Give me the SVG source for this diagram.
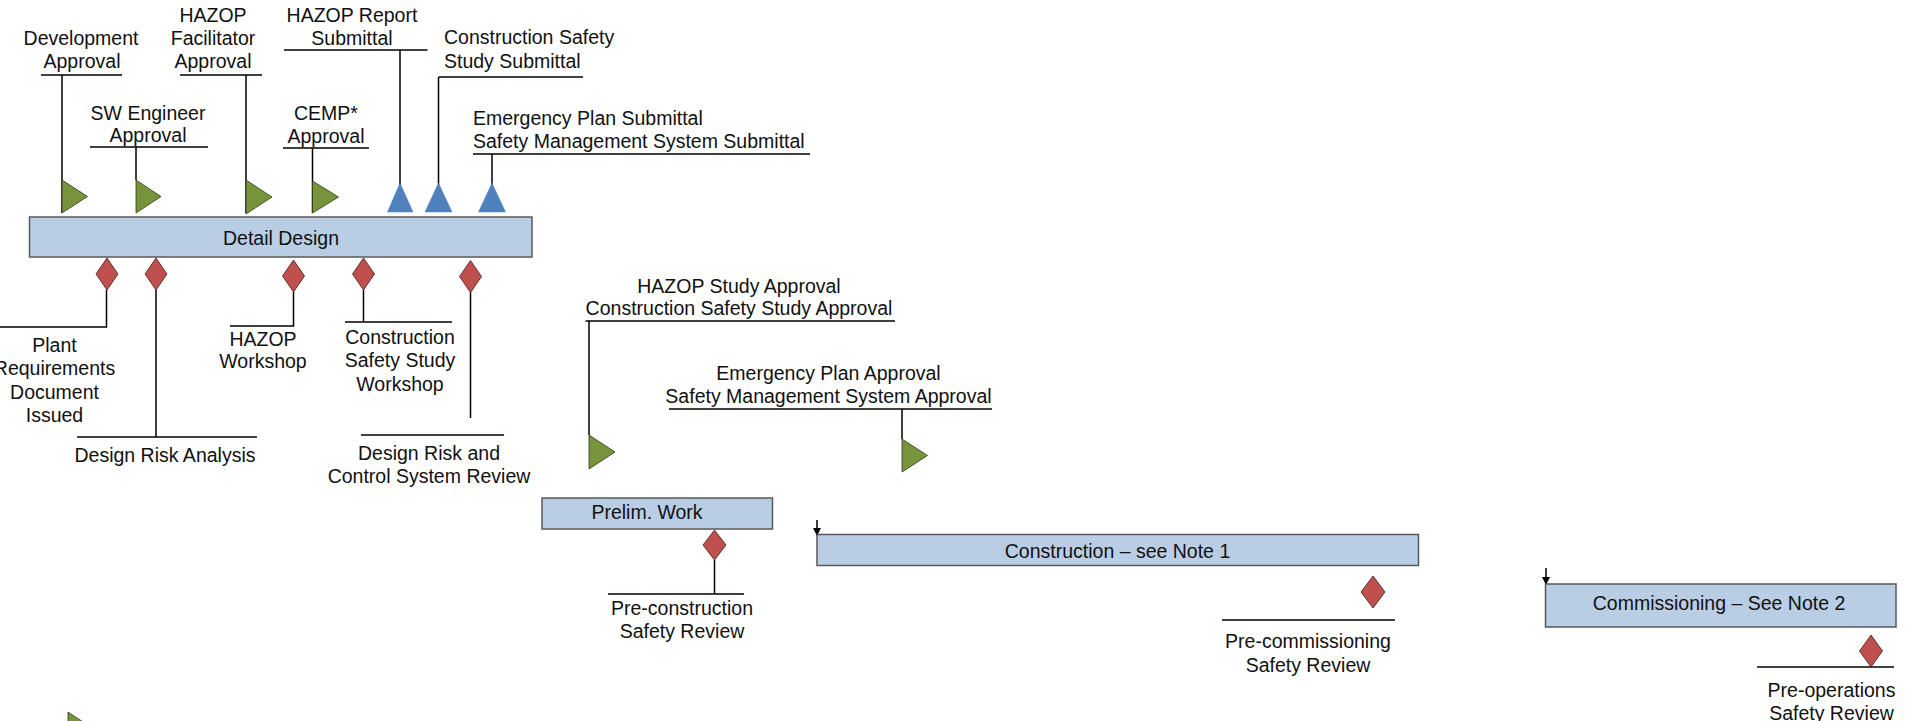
<svg xmlns="http://www.w3.org/2000/svg" width="1914" height="721" viewBox="0 0 1914 721">
<style>
text{font-family:"Liberation Sans",Arial,sans-serif;font-size:19.5px;fill:#111}
.m{text-anchor:middle}
.bar{fill:#b9cde5;stroke:#595959;stroke-width:1.5}
.g{fill:#77933c;stroke:#2f3b17;stroke-width:0.8}
.b{fill:#4f81bd;stroke:#4f81bd;stroke-width:0.5}
.r{fill:#c0504d;stroke:#3a1a19;stroke-width:0.8}
.ln{stroke:#000;stroke-width:1.5;fill:none}
</style>
<defs>
<marker id="ah" viewBox="0 0 10 10" refX="10" refY="5" markerWidth="8" markerHeight="8" markerUnits="userSpaceOnUse" orient="auto">
<path d="M0,0 L10,5 L0,10 z" fill="#000"/>
</marker>
</defs>
<rect width="1914" height="721" fill="#fff"/>

<g id="connectors" class="ln">
<!-- top flags -->
<path d="M41,75 H122 M62,75 V213"/>
<path d="M90,147 H208 M136,147 V180"/>
<path d="M180,75 H262 M246,75 V213"/>
<path d="M283,148 H369 M312.5,148 V213"/>
<path d="M284,50 H427.5 M400,50 V187"/>
<path d="M438.5,77 H583 M438.5,77 V187"/>
<path d="M473,154 H810 M492,154 V187"/>
<!-- bottom diamonds -->
<path d="M106.5,290 V327 H0"/>
<path d="M156,290 V437 M77,437 H257"/>
<path d="M293.5,292 V326 H230"/>
<path d="M363.5,290 V322 M345,322 H452"/>
<path d="M470.5,292 V418 M361,435 H504"/>
<!-- approvals -->
<path d="M585.5,321 H895 M589,321 V435"/>
<path d="M669,409 H992 M902,409 V439"/>
<!-- lower reviews -->
<path d="M714.5,560 V594 M608,594 H744"/>
<path d="M1222,620 H1395"/>
<path d="M1757,667 H1894"/>
<!-- start arrows -->
<path d="M817,520 V536" marker-end="url(#ah)"/>
<path d="M1546,568 V585" marker-end="url(#ah)"/>
</g>

<g id="detail-design">
<rect class="bar" x="29.5" y="217" width="502.5" height="40"/>
<text class="m" x="281" y="245">Detail Design</text>
</g>
<g id="prelim-work">
<rect class="bar" x="542" y="498" width="230.5" height="31"/>
<text class="m" x="647" y="519">Prelim. Work</text>
</g>
<g id="construction">
<rect class="bar" x="817" y="534.5" width="601.5" height="31"/>
<text class="m" x="1117.5" y="557.5">Construction – see Note 1</text>
</g>
<g id="commissioning">
<rect class="bar" x="1545.5" y="584" width="350.5" height="43"/>
<text class="m" x="1719" y="610">Commissioning – See Note 2</text>
</g>

<g id="development-approval">
<polygon class="g" points="62,180 87.5,196.5 62,213"/>
<text class="m" x="81" y="45">Development</text>
<text class="m" x="82" y="68">Approval</text>
</g>
<g id="sw-engineer-approval">
<polygon class="g" points="136,180 161,196.5 136,213"/>
<text class="m" x="148" y="119.5">SW Engineer</text>
<text class="m" x="148" y="142">Approval</text>
</g>
<g id="hazop-facilitator-approval">
<polygon class="g" points="246,180 272,197 246,214"/>
<text class="m" x="213" y="22">HAZOP</text>
<text class="m" x="213" y="45">Facilitator</text>
<text class="m" x="213" y="68">Approval</text>
</g>
<g id="cemp-approval">
<polygon class="g" points="312.5,181 338.5,197 312.5,213"/>
<text class="m" x="326" y="119.5">CEMP*</text>
<text class="m" x="326" y="143">Approval</text>
</g>
<g id="hazop-report-submittal">
<polygon class="b" points="387.5,212 400,183 413,212"/>
<text class="m" x="352" y="22">HAZOP Report</text>
<text class="m" x="352" y="45">Submittal</text>
</g>
<g id="css-submittal">
<polygon class="b" points="425,212 438.5,183 452,212"/>
<text x="444" y="44">Construction Safety</text>
<text x="444" y="67.5">Study Submittal</text>
</g>
<g id="emergency-sms-submittal">
<polygon class="b" points="478.5,212 492,183 505.5,212"/>
<text x="473" y="125">Emergency Plan Submittal</text>
<text x="473" y="148">Safety Management System Submittal</text>
</g>

<g id="plant-requirements">
<polygon class="r" points="107,258 118,274 107,290 96,274"/>
<text class="m" x="54.5" y="352">Plant</text>
<text class="m" x="54.5" y="375">Requirements</text>
<text class="m" x="54.5" y="399">Document</text>
<text class="m" x="54.5" y="422">Issued</text>
</g>
<g id="design-risk-analysis">
<polygon class="r" points="156,258 167,274 156,290 145,274"/>
<text class="m" x="165" y="462">Design Risk Analysis</text>
</g>
<g id="hazop-workshop">
<polygon class="r" points="293.5,260 304.5,276 293.5,292 282.5,276"/>
<text class="m" x="263" y="346">HAZOP</text>
<text class="m" x="263" y="368">Workshop</text>
</g>
<g id="css-workshop">
<polygon class="r" points="363.5,258 374.5,274 363.5,290 352.5,274"/>
<text class="m" x="400" y="344">Construction</text>
<text class="m" x="400" y="367">Safety Study</text>
<text class="m" x="400" y="391">Workshop</text>
</g>
<g id="design-risk-control-review">
<polygon class="r" points="470.5,260.5 481.5,276.5 470.5,292.5 459.5,276.5"/>
<text class="m" x="429" y="460">Design Risk and</text>
<text class="m" x="429" y="483">Control System Review</text>
</g>

<g id="hazop-css-approval">
<polygon class="g" points="589,435 615,452 589,469"/>
<text class="m" x="739" y="293">HAZOP Study Approval</text>
<text class="m" x="739" y="315">Construction Safety Study Approval</text>
</g>
<g id="emergency-sms-approval">
<polygon class="g" points="902,439 927.5,455.5 902,472"/>
<text class="m" x="828.5" y="380">Emergency Plan Approval</text>
<text class="m" x="828.5" y="403">Safety Management System Approval</text>
</g>

<g id="pre-construction-review">
<polygon class="r" points="714.5,530 726,545 714.5,560 703,545"/>
<text class="m" x="682" y="615">Pre-construction</text>
<text class="m" x="682" y="638">Safety Review</text>
</g>
<g id="pre-commissioning-review">
<polygon class="r" points="1373,576 1385,592 1373,608 1361,592"/>
<text class="m" x="1308" y="648">Pre-commissioning</text>
<text class="m" x="1308" y="672">Safety Review</text>
</g>
<g id="pre-operations-review">
<polygon class="r" points="1871,635 1882.5,651 1871,667 1859.5,651"/>
<text class="m" x="1831.5" y="697">Pre-operations</text>
<text class="m" x="1831.5" y="720">Safety Review</text>
</g>

<g id="partial-flag">
<polygon class="g" points="68,712 93,728.5 68,745"/>
</g>
</svg>
